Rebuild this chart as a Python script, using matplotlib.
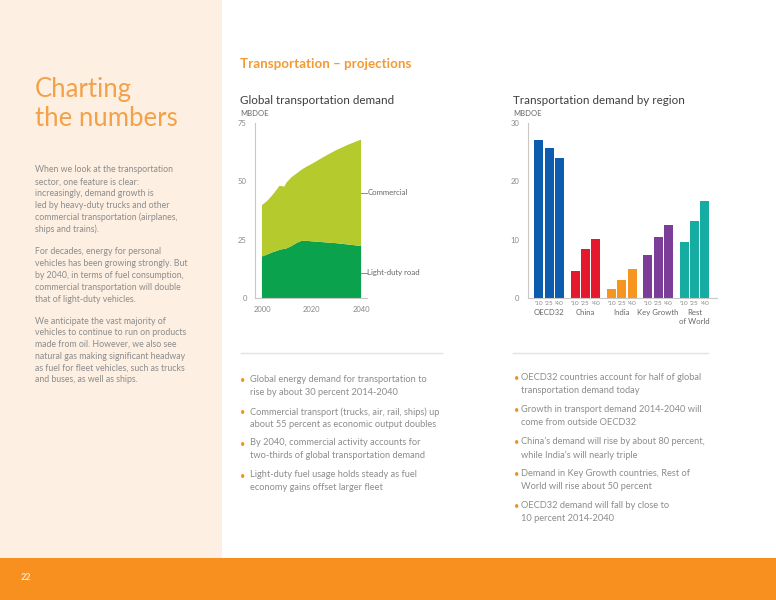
import matplotlib
matplotlib.use("Agg")
import matplotlib.pyplot as plt
from matplotlib.patches import Rectangle
from matplotlib.lines import Line2D
from matplotlib.transforms import blended_transform_factory

plt.rcParams['font.family'] = ['Lato', 'DejaVu Sans']

# ---------------- data ----------------
years = [2000, 2002, 2004, 2006, 2007, 2008, 2009, 2010, 2012, 2014, 2016,
         2018, 2020, 2025, 2030, 2035, 2040]
light_duty = [17.8, 18.6, 19.5, 20.2, 20.6, 20.9, 21.0, 21.3, 22.3, 23.6, 24.5,
              24.5, 24.3, 23.9, 23.5, 22.9, 22.3]
commercial = [22.0, 22.9, 24.3, 26.3, 27.4, 27.1, 26.7, 28.3, 29.5, 29.8, 30.5,
              31.8, 33.1, 36.6, 39.9, 42.9, 45.6]
area_labels = ["Light-duty road", "Commercial"]
area_xticks = [2000, 2020, 2040]
area_yticks = [0, 25, 50, 75]

regions = ["OECD32", "China", "India", "Key Growth", "Rest\nof World"]
period_labels = ["'10", "'25", "'40"]
region_values = [
    [27.0, 25.7, 23.9],
    [4.55, 8.4, 10.1],
    [1.5, 3.1, 4.95],
    [7.3, 10.4, 12.5],
    [9.6, 13.2, 16.6],
]
bar_yticks = [0, 10, 20, 30]

left_bullets = [
    "Global energy demand for transportation to\nrise by about 30 percent 2014-2040",
    "Commercial transport (trucks, air, rail, ships) up\nabout 55 percent as economic output doubles",
    "By 2040, commercial activity accounts for\ntwo-thirds of global transportation demand",
    "Light-duty fuel usage holds steady as fuel\neconomy gains offset larger fleet",
]
right_bullets = [
    "OECD32 countries account for half of global\ntransportation demand today",
    "Growth in transport demand 2014-2040 will\ncome from outside OECD32",
    "China\u2019s demand will rise by about 80 percent,\nwhile India\u2019s will nearly triple",
    "Demand in Key Growth countries, Rest of\nWorld will rise about 50 percent",
    "OECD32 demand will fall by close to\n10 percent 2014-2040",
]
body_paragraphs = [
    ["When we look at the transportation", "sector, one feature is clear:",
     "increasingly, demand growth is", "led by heavy-duty trucks and other",
     "commercial transportation (airplanes,", "ships and trains)."],
    ["For decades, energy for personal", "vehicles has been growing strongly. But",
     "by 2040, in terms of fuel consumption,", "commercial transportation will double",
     "that of light-duty vehicles."],
    ["We anticipate the vast majority of", "vehicles to continue to run on products",
     "made from oil. However, we also see", "natural gas making significant headway",
     "as fuel for fleet vehicles, such as trucks", "and buses, as well as ships."],
]

# ---------------- styles ----------------
CREAM = "#fdefe2"
ORANGE = "#f7901e"
TITLE_OR = "#f39a35"
HEAD_OR = "#f4a249"
BODY = "#8c8c8c"
DARK = "#3e3e3e"
TICK = "#8a8a8a"
SPINE = "#c8c8c8"
GREEN_LD = "#0aa24c"
GREEN_COM = "#b5ca2c"
REGION_COLORS = ["#0b5cae", "#e4192d", "#f6951f", "#7b3d97", "#17aca2"]

W, H = 776, 600
fig = plt.figure(figsize=(7.76, 6.0), dpi=100)
fig.patch.set_facecolor("white")


def fx(x):
    return x / W


def fy(y):
    return 1 - y / H


# backgrounds
fig.patches.append(Rectangle((0, fy(558)), fx(222), 558 / H,
                             transform=fig.transFigure, facecolor=CREAM,
                             edgecolor="none", zorder=0))
fig.patches.append(Rectangle((0, 0), 1, 42 / H, transform=fig.transFigure,
                             facecolor=ORANGE, edgecolor="none", zorder=0))
fig.text(fx(21), fy(578), "22", color="#fde3c0", fontsize=6.5,
         fontweight="bold", va="center", ha="left")

# left column
fig.text(fx(35), fy(89), "Charting", color=HEAD_OR, fontsize=18.5,
         fontweight="normal", va="center", ha="left")
fig.text(fx(35), fy(118), "the numbers", color=HEAD_OR, fontsize=18.5,
         fontweight="normal", va="center", ha="left")
para_start = [170, 252, 321]
for start, lines in zip(para_start, body_paragraphs):
    for i, line in enumerate(lines):
        fig.text(fx(35), fy(start + i * 11.8), line, color=BODY, fontsize=6.3,
                 va="center", ha="left")

# headings
fig.text(fx(240), fy(64), "Transportation \u2013 projections", color=TITLE_OR,
         fontsize=9.6, fontweight="bold", va="center", ha="left")
fig.text(fx(240), fy(100), "Global transportation demand", color=DARK,
         fontsize=8.4, va="center", ha="left")
fig.text(fx(240), fy(113), "MBDOE", color="#666666", fontsize=5.5,
         va="center", ha="left")
fig.text(fx(513), fy(100), "Transportation demand by region", color=DARK,
         fontsize=8.4, va="center", ha="left")
fig.text(fx(513), fy(113), "MBDOE", color="#666666", fontsize=5.5,
         va="center", ha="left")

# separators
fig.add_artist(Line2D([fx(241), fx(442)], [fy(352.5), fy(352.5)],
                      color="#e2e2e2", lw=1.0, transform=fig.transFigure))
fig.add_artist(Line2D([fx(513), fx(708)], [fy(352.5), fy(352.5)],
                      color="#e2e2e2", lw=1.0, transform=fig.transFigure))

# bullets
left_y = [381, 413, 444, 476]
for y, txt in zip(left_y, left_bullets):
    fig.text(fx(240), fy(y), "\u2022", color=ORANGE, fontsize=6.5, va="center")
    fig.text(fx(250), fy(y - 6), txt, color=BODY, fontsize=6.7, va="top",
             ha="left", linespacing=1.55)
right_y = [379, 411, 443, 475, 507]
for y, txt in zip(right_y, right_bullets):
    fig.text(fx(514), fy(y), "\u2022", color=ORANGE, fontsize=6.5, va="center")
    fig.text(fx(521), fy(y - 6), txt, color=BODY, fontsize=6.7, va="top",
             ha="left", linespacing=1.55)

# ---------------- area chart ----------------
ax1 = fig.add_axes([fx(255), fy(298), fx(367 - 255), (298 - 123) / H])
ax1.set_facecolor("none")
ax1.stackplot(years, light_duty, commercial, colors=[GREEN_LD, GREEN_COM],
              linewidth=0)
ax1.set_xlim(1997.2, 2042.4)
ax1.set_ylim(0, 75)
ax1.set_xticks(area_xticks)
ax1.set_yticks(area_yticks)
ax1.tick_params(length=0, labelsize=5.5, labelcolor=TICK, pad=6)
for s in ["top", "right"]:
    ax1.spines[s].set_visible(False)
for s in ["left", "bottom"]:
    ax1.spines[s].set_color(SPINE)
    ax1.spines[s].set_linewidth(0.8)
# series labels
y_com, y_ld = 45.0, 10.8
ax1.plot([2040, 2042.4], [y_com, y_com], color="#777777", lw=0.6,
         clip_on=False)
ax1.text(2042.6, y_com, area_labels[1], fontsize=5.6, color="#666666",
         va="center", ha="left", clip_on=False)
ax1.plot([2040, 2042.4], [y_ld, y_ld], color="#777777", lw=0.6, clip_on=False)
ax1.text(2042.6, y_ld, area_labels[0], fontsize=5.6, color="#666666",
         va="center", ha="left", clip_on=False)

# ---------------- bar chart ----------------
ax2 = fig.add_axes([fx(527.7), fy(298), fx(717 - 527.7), (298 - 122.7) / H])
ax2.set_facecolor("none")
offsets = [-0.285, 0.0, 0.285]
tick_pos, tick_lab = [], []
for gi, (vals, col) in enumerate(zip(region_values, REGION_COLORS)):
    xs = [gi + o for o in offsets]
    ax2.bar(xs, vals, width=0.25, color=col, linewidth=0)
    tick_pos += xs
    tick_lab += period_labels
ax2.set_xlim(-0.59, 4.62)
ax2.set_ylim(0, 30)
ax2.set_yticks(bar_yticks)
ax2.set_xticks(tick_pos)
ax2.set_xticklabels(tick_lab)
ax2.tick_params(axis="x", length=0, labelsize=4.6, labelcolor=TICK, pad=2)
ax2.tick_params(axis="y", length=0, labelsize=5.5, labelcolor=TICK, pad=6)
for s in ["top", "right"]:
    ax2.spines[s].set_visible(False)
for s in ["left", "bottom"]:
    ax2.spines[s].set_color(SPINE)
    ax2.spines[s].set_linewidth(0.8)
trans = blended_transform_factory(ax2.transData, fig.transFigure)
for gi, name in enumerate(regions):
    ax2.text(gi, fy(309), name, transform=trans, fontsize=5.6, color="#666666",
             ha="center", va="top", linespacing=1.25)

fig.savefig("out.png", dpi=100)
